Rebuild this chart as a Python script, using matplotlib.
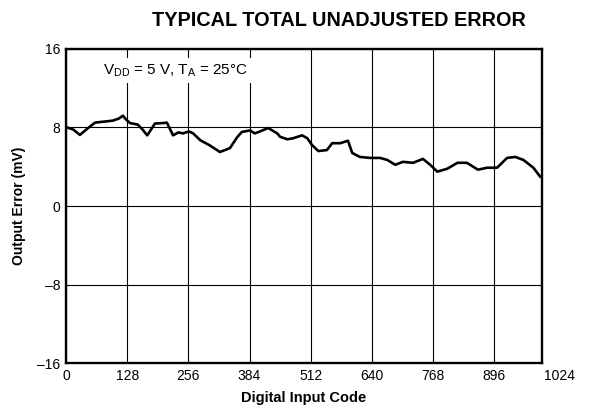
import matplotlib
matplotlib.use("Agg")
import matplotlib.pyplot as plt

plt.rcParams["font.family"] = ["Liberation Sans", "DejaVu Sans"]

# Kurve (Code, Fehler in mV)
codes = [2, 15, 29, 45, 61, 80, 98, 110, 119, 126, 134, 150, 160, 170, 186,
         203, 211, 224, 235, 245, 257, 266, 281, 300, 316, 322, 343, 358, 368,
         385, 395, 406, 423, 442, 448, 463, 475, 494, 505, 515, 528, 546, 557,
         574, 590, 599, 615, 636, 657, 672, 689, 705, 726, 747, 762, 777, 798,
         819, 839, 862, 881, 902, 923, 940, 957, 978, 992]
error_mv = [8.0, 7.8, 7.24, 7.9, 8.5, 8.6, 8.7, 8.9, 9.2, 8.8, 8.45, 8.3, 7.8,
            7.2, 8.4, 8.45, 8.5, 7.2, 7.5, 7.4, 7.6, 7.4, 6.7, 6.2, 5.7, 5.5,
            5.9, 7.0, 7.55, 7.7, 7.4, 7.6, 7.95, 7.4, 7.05, 6.8, 6.9, 7.2, 6.9,
            6.2, 5.6, 5.7, 6.4, 6.4, 6.65, 5.4, 5.0, 4.9, 4.9, 4.7, 4.2, 4.5,
            4.4, 4.8, 4.2, 3.5, 3.8, 4.4, 4.4, 3.7, 3.9, 3.9, 4.9, 5.0, 4.7,
            3.9, 3.0]

x_ticks = [0, 128, 256, 384, 512, 640, 768, 896]
y_ticks = [-16, -8, 0, 8, 16]
y_labels = ["\u201316", "\u20138", "0", "8", "16"]

fig = plt.figure(figsize=(5.9, 4.12), dpi=100)
ax = fig.add_axes([0.1119, 0.1189, 0.8067, 0.7622])

ax.plot(codes, error_mv, color="black", linewidth=1.9, zorder=3)

ax.set_xlim(0, 996)
ax.set_ylim(-16, 16)
ax.set_xticks(x_ticks)
ax.set_yticks(y_ticks)
ax.set_yticklabels(y_labels)
ax.tick_params(length=0, labelsize=10, pad=4)
ax.grid(True, color="black", linewidth=0.8)
for s in ax.spines.values():
    s.set_linewidth(1.7)

# letzte Beschriftung liegt ausserhalb des Rahmens
ax.annotate("1024", xy=(1032, 0), xycoords=ax.get_xaxis_transform(),
            xytext=(0, -4), textcoords="offset points",
            ha="center", va="top", fontsize=10)

ax.text(0.229, 0.932, "V$_{\\mathregular{DD}}$ = 5 V, T$_{\\mathregular{A}}$ = 25\u00b0C",
        transform=ax.transAxes, ha="center", va="center", fontsize=11,
        bbox=dict(facecolor="white", edgecolor="none", pad=3), zorder=4)

ax.set_xlabel("Digital Input Code", fontsize=10.5, fontweight="bold", labelpad=6)
ax.set_ylabel("Output Error (mV)", fontsize=10, fontweight="bold", labelpad=8)
fig.text(0.575, 0.951, "TYPICAL TOTAL UNADJUSTED ERROR", ha="center",
         va="center", fontsize=14.3, fontweight="bold")

fig.savefig("out.png", dpi=100)
